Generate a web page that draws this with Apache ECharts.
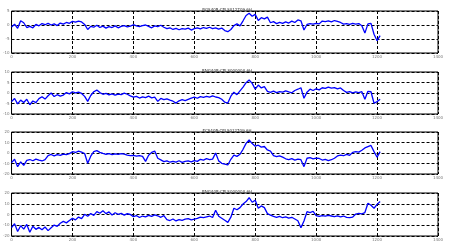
<!DOCTYPE html>
<html>
<head>
<meta charset="utf-8">
<script src="https://cdn.jsdelivr.net/npm/echarts@6/dist/echarts.min.js"></script>
<style>
  html, body { margin: 0; padding: 0; background: #fff; }
  #main { width: 450px; height: 249px; }
</style>
</head>
<body>
<div id="main"></div>
<script>
// sample spacing along x (one value every 10 samples, 0..1210)
var sampleStep = 10;

var titles = ['RGS40R:CPLS012709.6H', 'RNG40R:CPLS000000.6H', 'ECS40R:CPLS012709.6H', 'BNG40R:CPLS000000.6H'];
var yRanges = [[-10, 5, 5], [-10, 10, 5], [-20, 20, 10], [-20, 20, 10]];

var s1 = [-0.7, 0.3, -1.2, 1.5, 0.8, -0.9, -0.5, -1.0, 0.2, -0.3,
  0.5, 0.1, 0.6, 0.0, 0.4, -0.2, 0.7, 0.3, 0.9, 0.6,
  1.3, 1.0, 1.4, 1.1, 0.2, -1.6, -0.5, -0.8, -0.1, -0.9,
  -0.4, -1.1, -0.6, -0.9, -0.3, -1.0, -0.5, -0.2, -0.7, -0.4,
  0.1, -0.3, -0.6, -0.2, 0.0, -0.5, -1.0, -0.3, -0.6, -0.1,
  -0.8, -1.3, -1.0, -1.6, -1.2, -1.7, -1.3, -1.5, -1.1, -1.8,
  -1.3, -1.0, -1.4, -0.9, -1.2, -0.8, -1.3, -1.0, -1.5, -1.1,
  -2.0, -2.4, -1.6, -0.2, 0.4, -0.3, 1.5, 3.4, 4.2, 3.1,
  3.8, 1.6, 2.6, 2.2, 2.8, 0.8, 1.2, 0.5, 0.9, 0.6,
  1.1, 0.7, 1.4, 0.9, 1.8, 1.5, -1.8, 0.2, 0.5, 0.3,
  0.6, 0.4, 1.4, 1.2, 1.5, 1.1, 1.6, 1.3, 0.9, 0.3,
  0.5, 0.2, 0.6, 0.3, 0.5, -0.3, -2.9, 0.4, 0.6, -3.3,
  -5.6, -3.8];

var s2 = [-4.1, -2.6, -5.2, -3.4, -4.5, -3.0, -5.6, -3.8, -4.6, -2.7,
  -1.8, -2.9, -1.3, 0.0, -1.7, -0.8, -1.5, -1.0, 0.2, -0.4,
  0.6, 0.1, 0.4, -0.2, -1.6, -4.0, -1.2, 0.6, 1.4, 0.2,
  -0.6, -0.2, -0.9, -0.4, -1.0, -0.5, -0.8, -0.1, -0.6, -1.4,
  -2.0, -1.6, -2.4, -1.8, -2.2, -1.5, -2.3, -2.0, -4.0, -2.6,
  -3.2, -2.8, -3.4, -3.9, -4.8, -3.7, -3.2, -3.6, -3.0, -2.4,
  -2.0, -2.5, -1.7, -2.1, -1.6, -2.0, -1.4, -1.9, -2.2, -3.0,
  -4.4, -4.8, -1.5, 0.4, -0.8, 1.0, 2.8, 4.9, 6.2, 4.6,
  1.8, 3.8, 2.4, 3.0, 0.8, 0.3, 0.9, 0.2, 0.7, 0.4,
  1.0, 0.5, 0.1, 1.2, 1.8, 2.5, -2.5, 0.4, 1.8, 1.2,
  2.0, 1.5, 2.5, 2.2, 2.8, 2.3, 2.6, 2.0, 2.4, 1.2,
  0.3, 0.7, 0.1, 0.5, 0.2, 0.6, -3.0, 0.8, 0.6, -4.9,
  -4.1, -3.0];

var s3 = [-9.2, -6.0, -13.0, -8.5, -11.8, -7.0, -6.2, -7.4, -5.8, -6.8,
  -7.6, -6.3, -2.5, -1.4, -2.8, -1.6, -2.2, -1.0, -1.5, -0.6,
  1.2, 0.5, 1.8, 0.8, -0.5, -9.8, -3.0, 1.3, 2.2, 0.6,
  -0.4, -1.2, -0.6, -1.5, -0.8, -1.3, -0.5, -1.0, -2.0, -2.6,
  -2.2, -3.0, -2.4, -3.2, -8.0, -2.2, 0.6, 1.8, -5.0, -6.5,
  -8.2, -7.5, -8.8, -7.9, -8.6, -7.4, -8.9, -8.0, -7.6, -8.4,
  -7.2, -8.0, -6.0, -6.8, -5.4, -6.4, -5.8, 0.0, -7.5, -9.8,
  -10.6, -11.4, -6.0, -2.0, -3.2, -1.2, 3.5, 9.2, 12.4, 9.0,
  6.5, 7.4, 5.6, 6.2, 2.9, 1.8, -2.5, -3.5, -2.8, -4.0,
  -5.5, -6.2, -5.4, -6.8, -5.8, -6.4, -13.0, -5.0, -4.4, -5.6,
  -4.8, -5.2, -6.7, -6.0, -7.2, -6.4, -5.0, -2.8, -2.0, -2.6,
  -1.4, -2.2, 0.6, 1.3, 0.8, 2.6, 4.8, 6.0, 7.2, 1.3,
  -4.0, 1.3];

var s4 = [-12.3, -8.5, -15.8, -10.4, -13.6, -9.2, -16.5, -11.0, -13.8, -12.0,
  -14.2, -11.6, -15.0, -12.4, -9.8, -11.0, -8.2, -6.4, -7.8, -5.6,
  -3.6, -5.0, -2.4, -3.8, 0.2, -1.6, 1.0, -0.8, 2.6, 1.2,
  3.4, 0.8, 2.4, -0.4, 1.6, 0.2, 1.0, -0.6, 0.8, 0.0,
  -2.0, -1.0, -2.8, -1.4, -2.2, -0.8, -1.8, -0.4, -1.2, -2.6,
  -1.0, -4.8, -5.6, -4.2, -6.0, -4.8, -5.4, -4.4, -3.8, -5.0,
  -4.2, -3.6, -2.4, -3.0, -2.2, -1.4, -2.8, 4.0, -1.6, -3.5,
  -5.4, -7.3, -2.5, 5.8, 4.4, 6.4, 9.8, 12.0, 15.6, 11.4,
  13.2, 5.8, 8.0, 6.4, 0.8, -0.5, -1.8, -2.6, -1.8, -3.0,
  -2.2, -3.4, -2.6, -4.2, -5.8, -12.3, -6.0, 2.6, 1.8, 3.0,
  -1.0, -1.8, -1.0, -1.6, -0.8, -1.4, -2.0, -1.2, -2.2, -1.4,
  -2.6, -3.0, -2.4, 0.4, 1.1, 0.6, 1.8, 10.4, 8.6, 5.8,
  9.4, 12.0];

var seriesData = [s1, s2, s3, s4];
var gridTops = [11, 72, 132, 193];
var gridHeights = [42, 42, 42, 43];

var myChart = echarts.init(document.getElementById('main'), null, { renderer: 'canvas' });

var grids = [], xAxes = [], yAxes = [], series = [], titleOpts = [];
for (var i = 0; i < 4; i++) {
  grids.push({
    left: 9, right: 12, top: gridTops[i], height: gridHeights[i],
    show: true, borderColor: '#000', borderWidth: 1, backgroundColor: '#fff'
  });
  titleOpts.push({
    text: titles[i], left: 222, top: gridTops[i] - 8, textAlign: 'center',
    textStyle: { fontSize: 4, fontWeight: 'normal', color: '#333', fontFamily: 'DejaVu Sans' }
  });
  xAxes.push({
    type: 'value', gridIndex: i, min: 0, max: 1400, interval: 200,
    axisLine: { show: false }, axisTick: { show: false },
    axisLabel: {
      fontSize: 4, color: '#777', margin: 2, fontFamily: 'DejaVu Sans',
      formatter: function (v) { return String(v); }
    },
    splitLine: { show: true, lineStyle: { color: '#000', type: [3, 2], width: 1 } }
  });
  yAxes.push({
    type: 'value', gridIndex: i, min: yRanges[i][0], max: yRanges[i][1], interval: yRanges[i][2],
    axisLine: { show: false }, axisTick: { show: false },
    axisLabel: { fontSize: 4, color: '#777', margin: 2, fontFamily: 'DejaVu Sans' },
    splitLine: { show: true, lineStyle: { color: '#000', type: [3, 2], width: 1 } }
  });
  var pts = [];
  for (var j = 0; j < seriesData[i].length; j++) {
    pts.push([j * sampleStep, seriesData[i][j]]);
  }
  series.push({
    type: 'line', xAxisIndex: i, yAxisIndex: i, data: pts,
    showSymbol: false, symbol: 'none', animation: false,
    lineStyle: { color: '#0000ff', width: 1.3 }
  });
}

var option = {
  backgroundColor: '#fff',
  animation: false,
  title: titleOpts,
  grid: grids,
  xAxis: xAxes,
  yAxis: yAxes,
  series: series
};
myChart.setOption(option);
window.addEventListener('resize', function () {
  myChart.resize();
});
</script>
</body>
</html>
